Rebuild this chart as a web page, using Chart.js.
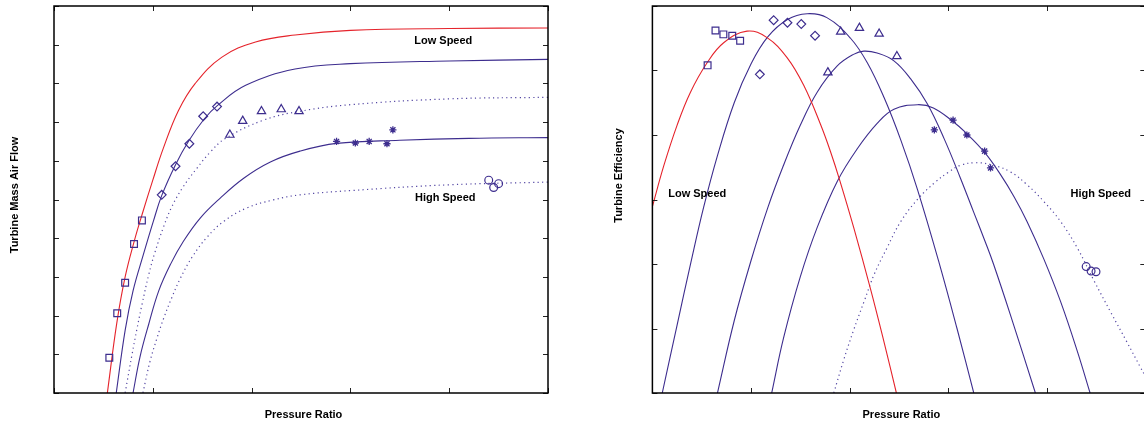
<!DOCTYPE html>
<html>
<head>
<meta charset="utf-8">
<title>Turbine map</title>
<script src="https://cdn.jsdelivr.net/npm/chart.js@4.4.1/dist/chart.umd.min.js"></script>
<style>
  html, body { margin: 0; padding: 0; background: #fff; overflow: hidden; }
  #wrap { position: relative; width: 1144px; height: 425px; overflow: hidden; }
  #flowChart { position: absolute; left: 0; top: 0; }
  #effChart { position: absolute; left: 572px; top: 0; }
</style>
</head>
<body>
<div id="wrap">
  <canvas id="flowChart" width="572" height="425"></canvas>
  <canvas id="effChart" width="600" height="425"></canvas>
</div>
<script>
// Axes carry no numbers in the original, only tick marks
const xTicks = [0, 1, 2, 3, 4, 5];
const flowTicks = [0, 1, 2, 3, 4, 5, 6, 7, 8, 9, 10];
const effTicks = [0, 1, 2, 3, 4, 5, 6];

// Measured points (same pressure ratios on both panels)
const squareX = [0.56, 0.64, 0.72, 0.81, 0.89];
const diamondX = [1.09, 1.23, 1.37, 1.51, 1.65];
const triangleX = [1.78, 1.91, 2.10, 2.30, 2.48];
const starX = [2.86, 3.05, 3.19, 3.37, 3.43];
const circleX = [4.40, 4.45, 4.50];

const squareFlow = [0.91, 2.06, 2.85, 3.85, 4.46];
const diamondFlow = [5.12, 5.86, 6.44, 7.15, 7.40];
const triangleFlow = [6.67, 7.03, 7.28, 7.33, 7.28];
const starFlow = [6.50, 6.46, 6.50, 6.44, 6.80];
const circleFlow = [5.50, 5.31, 5.41];

const squareEff = [5.08, 5.62, 5.56, 5.54, 5.46];
const diamondEff = [4.94, 5.78, 5.74, 5.72, 5.54];
const triangleEff = [4.97, 5.60, 5.66, 5.57, 5.22];
const starEff = [4.08, 4.23, 4.00, 3.75, 3.49];
const circleEff = [1.96, 1.89, 1.88];

// Fitted speed lines, mass air flow (low speed -> high speed)
const flowSpeed1X = [0.54, 0.635, 0.72, 0.815, 0.89, 1.0, 1.106, 1.26, 1.43, 1.70, 2.04, 2.44, 3.0, 4.0, 5.0];
const flowSpeed1Y = [0, 1.80, 3.0, 3.95, 4.60, 5.50, 6.32, 7.30, 8.0, 8.68, 9.07, 9.25, 9.37, 9.42, 9.43];
const flowSpeed2X = [0.63, 0.72, 0.80, 0.905, 1.006, 1.09, 1.23, 1.36, 1.52, 1.65, 1.94, 2.44, 3.0, 4.0, 5.0];
const flowSpeed2Y = [0, 1.62, 2.64, 3.58, 4.44, 5.10, 5.90, 6.50, 7.08, 7.42, 7.95, 8.37, 8.51, 8.58, 8.62];
const flowSpeed3X = [0.72, 0.79, 0.84, 0.89, 0.96, 1.02, 1.11, 1.19, 1.30, 1.45, 1.58, 1.73, 2.12, 2.49, 3.0, 4.0, 5.0];
const flowSpeed3Y = [0, 1.0, 1.66, 2.28, 3.07, 3.62, 4.30, 4.80, 5.30, 5.82, 6.22, 6.57, 7.05, 7.28, 7.45, 7.60, 7.64];
const flowSpeed4X = [0.80, 0.87, 0.96, 1.06, 1.18, 1.31, 1.48, 1.68, 1.92, 2.19, 2.49, 2.86, 3.5, 4.2, 5.0];
const flowSpeed4Y = [0, 0.93, 1.79, 2.64, 3.33, 3.92, 4.52, 5.03, 5.55, 5.97, 6.25, 6.45, 6.53, 6.58, 6.60];
const flowSpeed5X = [0.90, 0.97, 1.04, 1.11, 1.19, 1.28, 1.40, 1.55, 1.72, 1.95, 2.22, 2.49, 3.0, 4.0, 5.0];
const flowSpeed5Y = [0, 0.80, 1.40, 1.93, 2.45, 2.97, 3.52, 4.03, 4.44, 4.78, 4.99, 5.12, 5.23, 5.38, 5.45];

// Fitted speed lines, turbine efficiency
const effSpeed1X = [0, 0.115, 0.25, 0.385, 0.555, 0.723, 0.96, 1.163, 1.366, 1.535, 1.704, 1.807, 1.902, 2.043, 2.213, 2.348, 2.475];
const effSpeed1Y = [2.89, 3.52, 4.15, 4.66, 5.12, 5.43, 5.61, 5.51, 5.20, 4.77, 4.17, 3.74, 3.29, 2.56, 1.61, 0.80, 0];
const effSpeed2X = [0.10, 0.25, 0.39, 0.52, 0.66, 0.83, 1.0, 1.17, 1.37, 1.57, 1.77, 2.01, 2.18, 2.35, 2.52, 2.69, 2.91, 3.09, 3.26];
const effSpeed2Y = [0, 1.05, 2.02, 2.88, 3.68, 4.50, 5.10, 5.52, 5.79, 5.88, 5.82, 5.50, 5.12, 4.58, 3.92, 3.15, 2.01, 1.0, 0];
const effSpeed3X = [0.66, 0.83, 1.0, 1.17, 1.33, 1.50, 1.67, 1.875, 2.04, 2.145, 2.28, 2.45, 2.62, 2.79, 2.96, 3.125, 3.26, 3.38, 3.46, 3.63, 3.885];
const effSpeed3Y = [0, 1.12, 2.05, 2.87, 3.53, 4.15, 4.66, 5.07, 5.25, 5.30, 5.27, 5.15, 4.87, 4.48, 3.94, 3.33, 2.80, 2.33, 2.0, 1.22, 0];
const effSpeed4X = [1.21, 1.33, 1.50, 1.67, 1.875, 2.08, 2.28, 2.45, 2.69, 2.85, 3.04, 3.19, 3.37, 3.53, 3.67, 3.80, 3.97, 4.14, 4.31, 4.44];
const effSpeed4Y = [0, 0.85, 1.80, 2.56, 3.28, 3.79, 4.18, 4.40, 4.47, 4.42, 4.22, 4.02, 3.73, 3.39, 3.04, 2.66, 2.08, 1.42, 0.65, 0];
const effSpeed5X = [1.84, 1.94, 2.04, 2.15, 2.25, 2.38, 2.52, 2.70, 2.87, 3.0, 3.125, 3.29, 3.46, 3.63, 3.80, 3.97, 4.14, 4.31, 4.48, 4.65, 4.81, 4.95, 5.0];
const effSpeed5Y = [0, 0.51, 0.97, 1.43, 1.84, 2.25, 2.66, 3.02, 3.27, 3.42, 3.53, 3.57, 3.53, 3.43, 3.23, 2.97, 2.66, 2.25, 1.74, 1.25, 0.80, 0.40, 0.26];

const BLUE = '#3d2d8e';
const RED = '#e5232b';
const DOTTED = '#5346a3';

// zip two arrays into {x, y} points
function pts(xs, ys) {
  return xs.map((x, i) => ({ x: x, y: ys[i] }));
}

function curve(xs, ys, color, dotted) {
  return {
    data: pts(xs, ys),
    showLine: true,
    borderColor: color,
    borderWidth: dotted ? 1.2 : 1.1,
    borderDash: dotted ? [1.2, 3.3] : [],
    pointRadius: 0,
    tension: 0.4,
    fill: false
  };
}

function marks(xs, ys, style, r) {
  return {
    data: pts(xs, ys),
    showLine: false,
    pointStyle: style,
    pointRadius: r,
    pointBorderColor: BLUE,
    pointBackgroundColor: 'rgba(0,0,0,0)',
    pointBorderWidth: style === 'star' ? 1.3 : 1.2
  };
}

// box, inward ticks, axis titles and the two speed notes
const framePlugin = {
  id: 'frame',
  afterDatasetsDraw(chart, args, opts) {
    const ctx = chart.ctx;
    const a = chart.chartArea;
    const sx = chart.scales.x;
    const sy = chart.scales.y;
    ctx.save();
    ctx.strokeStyle = '#222';
    ctx.lineWidth = 1;
    opts.xTicks.forEach(v => {
      const p = Math.round(sx.getPixelForValue(v)) + 0.5;
      ctx.beginPath();
      ctx.moveTo(p, a.bottom); ctx.lineTo(p, a.bottom - 5);
      ctx.moveTo(p, a.top); ctx.lineTo(p, a.top + 5);
      ctx.stroke();
    });
    opts.yTicks.forEach(v => {
      const p = Math.round(sy.getPixelForValue(v)) + 0.5;
      ctx.beginPath();
      ctx.moveTo(a.left, p); ctx.lineTo(a.left + 5, p);
      ctx.moveTo(a.right, p); ctx.lineTo(a.right - 5, p);
      ctx.stroke();
    });
    ctx.strokeStyle = '#000';
    ctx.lineWidth = 1.5;
    ctx.strokeRect(a.left, a.top, a.right - a.left, a.bottom - a.top);

    ctx.fillStyle = '#000';
    ctx.font = 'bold 11px "Liberation Sans", Arial, sans-serif';
    ctx.textAlign = 'center';
    ctx.textBaseline = 'middle';
    opts.notes.forEach(n => {
      ctx.fillText(n.text, sx.getPixelForValue(n.x), sy.getPixelForValue(n.y));
    });
    ctx.fillText(opts.xTitle, (a.left + a.right) / 2 + 2.5, a.bottom + 22);
    ctx.translate(a.left - opts.yTitleGap, (a.top + a.bottom) / 2 + opts.yTitleShift);
    ctx.rotate(-Math.PI / 2);
    ctx.fillText(opts.yTitle, 0, 0);
    ctx.restore();
  }
};

function makePanel(id, pad, yMax, yTicks, datasets, frame) {
  return new Chart(document.getElementById(id), {
    type: 'scatter',
    data: { datasets: datasets },
    options: {
      responsive: false,
      animation: false,
      devicePixelRatio: 1,
      layout: { padding: pad },
      scales: {
        x: { type: 'linear', min: 0, max: 5, display: false },
        y: { type: 'linear', min: 0, max: yMax, display: false }
      },
      plugins: {
        legend: { display: false },
        tooltip: { enabled: false },
        frame: Object.assign({ xTicks: xTicks, yTicks: yTicks }, frame)
      }
    },
    plugins: [framePlugin]
  });
}

makePanel('flowChart', { left: 54, right: 24, top: 3, bottom: 32 }, 10, flowTicks, [
  marks(squareX, squareFlow, 'rect', 4.8),
  marks(diamondX, diamondFlow, 'rectRot', 4.4),
  marks(triangleX, triangleFlow, 'triangle', 4.8),
  marks(starX, starFlow, 'star', 3.6),
  marks(circleX, circleFlow, 'circle', 3.9),
  curve(flowSpeed1X, flowSpeed1Y, RED, false),
  curve(flowSpeed2X, flowSpeed2Y, BLUE, false),
  curve(flowSpeed3X, flowSpeed3Y, DOTTED, true),
  curve(flowSpeed4X, flowSpeed4Y, BLUE, false),
  curve(flowSpeed5X, flowSpeed5Y, DOTTED, true)
], {
  notes: [
    { text: 'Low Speed', x: 3.94, y: 9.09 },
    { text: 'High Speed', x: 3.96, y: 5.05 }
  ],
  xTitle: 'Pressure Ratio',
  yTitle: 'Turbine Mass Air Flow',
  yTitleGap: 39.3,
  yTitleShift: -4.5
});

makePanel('effChart', { left: 80.4, right: 26.7, top: 3, bottom: 32 }, 6, effTicks, [
  marks(squareX, squareEff, 'rect', 4.8),
  marks(diamondX, diamondEff, 'rectRot', 4.4),
  marks(triangleX, triangleEff, 'triangle', 4.8),
  marks(starX, starEff, 'star', 3.6),
  marks(circleX, circleEff, 'circle', 3.9),
  curve(effSpeed1X, effSpeed1Y, RED, false),
  curve(effSpeed2X, effSpeed2Y, BLUE, false),
  curve(effSpeed3X, effSpeed3Y, BLUE, false),
  curve(effSpeed4X, effSpeed4Y, BLUE, false),
  curve(effSpeed5X, effSpeed5Y, DOTTED, true)
], {
  notes: [
    { text: 'Low Speed', x: 0.455, y: 3.09 },
    { text: 'High Speed', x: 4.548, y: 3.09 }
  ],
  xTitle: 'Pressure Ratio',
  yTitle: 'Turbine Efficiency',
  yTitleGap: 33.4,
  yTitleShift: -24
});
</script>
</body>
</html>
